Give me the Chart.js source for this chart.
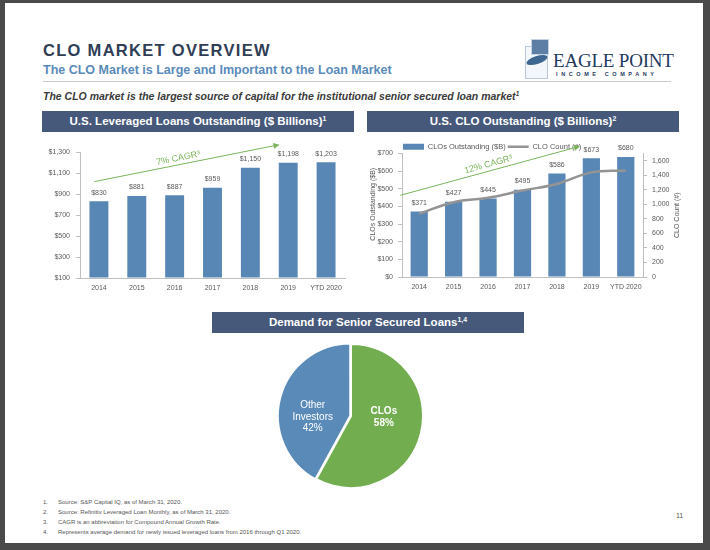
<!DOCTYPE html>
<html>
<head>
<meta charset="utf-8">
<script src="https://cdn.jsdelivr.net/npm/chart.js@4.4.1/dist/chart.umd.min.js"></script>
<style>
  html, body { margin: 0; padding: 0; }
  body { width: 710px; height: 550px; background: #4a4a4a; position: relative; overflow: hidden;
         font-family: "Liberation Sans", Arial, sans-serif; }
  .slide { position: absolute; left: 5px; top: 3px; width: 698px; height: 540px; background: #fff; }
  .abs { position: absolute; white-space: nowrap; }
  .title { left: 43px; top: 41px; font-size: 16.5px; font-weight: bold; letter-spacing: 1.3px; color: #2f3e55; }
  .subtitle { left: 43px; top: 63px; font-size: 12.5px; font-weight: bold; color: #5a8bba; }
  .rule { left: 43px; top: 81px; width: 628px; height: 1px; background: #c9c9c9; }
  .lead { left: 43px; top: 90px; font-size: 10.5px; font-weight: bold; font-style: italic; color: #3a3a3a; }
  .bar { background: #46597a; color: #fff; font-weight: bold; font-size: 11.5px; text-align: center;
         height: 21px; line-height: 21px; }
  sup { font-size: 0.6em; vertical-align: 0.6em; line-height: 0; }
  .notes { left: 43px; top: 497px; font-size: 6px; color: #555; line-height: 10px; }
  .notes span { display: inline-block; width: 15px; }
  .page { left: 676px; top: 512px; font-size: 7px; color: #555; }
  .logo-name { left: 553px; top: 50px; font-family: "Liberation Serif", serif; font-size: 19px; color: #1f3a5f; letter-spacing: -0.2px; }
  .logo-sub { left: 556px; top: 71px; font-size: 5.5px; font-weight: bold; letter-spacing: 3.6px; color: #1f3a5f; }
  .chart { position: absolute; }
</style>
</head>
<body>
<div class="slide"></div>

<div class="abs title">CLO MARKET OVERVIEW</div>
<div class="abs subtitle">The CLO Market is Large and Important to the Loan Market</div>
<div class="abs rule"></div>
<div class="abs lead">The CLO market is the largest source of capital for the institutional senior secured loan market<sup>1</sup></div>

<!-- logo -->
<div class="abs" style="left:525px;top:46px;width:21px;height:31px;border:1px solid #b9c7d8;background:#f3f6fa;"></div>
<div class="abs" style="left:531px;top:39px;width:16px;height:14px;background:#5d7fa6;border:1px solid #c6d4e4;"></div>
<div class="abs" style="left:526px;top:56px;width:22px;height:8px;border-radius:50%;background:#3d6690;transform:rotate(-18deg);"></div>
<div class="abs logo-name">EAGLE POINT</div>
<div class="abs logo-sub">INCOME COMPANY</div>

<div class="abs bar" style="left:42px;top:111px;width:312px;">U.S. Leveraged Loans Outstanding ($ Billions)<sup>1</sup></div>
<div class="abs bar" style="left:367px;top:111px;width:312px;">U.S. CLO Outstanding ($ Billions)<sup>2</sup></div>
<div class="abs bar" style="left:212px;top:312px;width:312px;">Demand for Senior Secured Loans<sup>1,4</sup></div>

<div class="chart" style="left:30px;top:138px;width:325px;height:165px;"><canvas id="loans"></canvas></div>
<div class="chart" style="left:362px;top:138px;width:325px;height:165px;"><canvas id="clo"></canvas></div>
<div class="chart" style="left:271px;top:336px;width:160px;height:160px;"><canvas id="demand"></canvas></div>

<div class="abs notes">
  <div><span>1.</span>Source: S&amp;P Capital IQ, as of March 31, 2020.</div>
  <div><span>2.</span>Source: Refinitiv Leveraged Loan Monthly, as of March 31, 2020.</div>
  <div><span>3.</span>CAGR is an abbreviation for Compound Annual Growth Rate.</div>
  <div><span>4.</span>Represents average demand for newly issued leveraged loans from 2016 through Q1 2020.</div>
</div>
<div class="abs page">11</div>

<script>
// values
const years = ["2014", "2015", "2016", "2017", "2018", "2019", "YTD 2020"];
const loansOutstanding = [830, 881, 887, 959, 1150, 1198, 1203];
const cloOutstanding = [371, 427, 445, 495, 586, 673, 680];
const cloCount = [870, 1030, 1090, 1190, 1280, 1440, 1465];
const demandLabels = ["CLOs", "Other Investors"];
const demandShares = [58, 42];

const BLUE = "#5887b5";
const GREY_LINE = "#949494";
const GREEN = "#7ab55a";
const TICK = "#595959";
const AXIS = "#bfbfbf";
const FONT = "'Liberation Sans', Arial, sans-serif";

Chart.defaults.font.family = FONT;
Chart.defaults.font.size = 7;
Chart.defaults.color = TICK;
Chart.defaults.animation = false;

const money = v => "$" + v.toLocaleString("en-US");

// "$xxx" above every bar
const barLabels = {
    id: "barLabels",
    afterDatasetsDraw(chart) {
        const ctx = chart.ctx;
        const idx = chart.data.datasets.findIndex(ds => (ds.type || chart.config.type) === "bar");
        const meta = chart.getDatasetMeta(idx);
        ctx.save();
        ctx.font = "7px " + FONT;
        ctx.fillStyle = TICK;
        ctx.textAlign = "center";
        ctx.textBaseline = "bottom";
        meta.data.forEach((bar, i) => {
            ctx.fillText(money(chart.data.datasets[idx].data[i]), bar.x, bar.y - 5);
        });
        ctx.restore();
    }
};

// green CAGR arrow, anchored in data units
const cagrArrow = {
    id: "cagrArrow",
    afterDraw(chart, args, opts) {
        if (!opts.text) return;
        const xs = chart.scales.x, ys = chart.scales.y;
        const x0 = xs.getPixelForValue(opts.from[0]), y0 = ys.getPixelForValue(opts.from[1]);
        const x1 = xs.getPixelForValue(opts.to[0]), y1 = ys.getPixelForValue(opts.to[1]);
        const ang = Math.atan2(y1 - y0, x1 - x0);
        const c = Math.cos(ang), s = Math.sin(ang);
        const ctx = chart.ctx;
        ctx.save();
        ctx.strokeStyle = GREEN;
        ctx.fillStyle = GREEN;
        ctx.lineWidth = 1;
        ctx.beginPath();
        ctx.moveTo(x0, y0);
        ctx.lineTo(x1 - 4 * c, y1 - 4 * s);
        ctx.stroke();
        ctx.beginPath();
        ctx.moveTo(x1, y1);
        ctx.lineTo(x1 - 6 * c + 3 * s, y1 - 6 * s - 3 * c);
        ctx.lineTo(x1 - 6 * c - 3 * s, y1 - 6 * s + 3 * c);
        ctx.closePath();
        ctx.fill();
        ctx.translate(x0 + (x1 - x0) * opts.at, y0 + (y1 - y0) * opts.at);
        ctx.rotate(ang);
        ctx.font = "9px " + FONT;
        ctx.textAlign = "center";
        ctx.textBaseline = "bottom";
        ctx.fillText(opts.text, 0, -2);
        ctx.restore();
    }
};

// vertical axis titles reading bottom to top on both sides
const sideTitles = {
    id: "sideTitles",
    afterDraw(chart, args, opts) {
        if (!opts.items) return;
        const ctx = chart.ctx;
        const area = chart.chartArea;
        ctx.save();
        ctx.font = "7px " + FONT;
        ctx.fillStyle = TICK;
        ctx.textAlign = "center";
        ctx.textBaseline = "middle";
        opts.items.forEach(it => {
            const s = chart.scales[it.axis];
            ctx.save();
            ctx.translate(s.left + it.dx, (area.top + area.bottom) / 2 + it.dy);
            ctx.rotate(-Math.PI / 2);
            ctx.fillText(it.text, 0, 0);
            ctx.restore();
        });
        ctx.restore();
    }
};

// nudge the legend so it starts over the plot like on the slide
const legendNudge = {
    id: "legendNudge",
    beforeDraw(chart, args, opts) {
        if (chart.legend && opts.dx !== undefined) {
            chart.legend.left = opts.dx;
            chart.legend.top = opts.dy;
        }
    }
};

const axisGrid = { display: true, drawOnChartArea: false, drawTicks: true, tickLength: 4, color: AXIS };
const xGrid = { display: false, drawTicks: false };

new Chart(document.getElementById("loans"), {
    type: "bar",
    data: {
        labels: years,
        datasets: [{
            data: loansOutstanding,
            backgroundColor: BLUE,
            base: 100,
            barPercentage: 0.5,
            categoryPercentage: 1
        }]
    },
    options: {
        responsive: true,
        maintainAspectRatio: false,
        layout: { padding: { top: 14, right: 10 } },
        plugins: {
            legend: { display: false },
            tooltip: { enabled: false },
            cagrArrow: { text: "7% CAGR³", from: [-0.12, 1018], to: [4.77, 1370], at: 0.46 }
        },
        scales: {
            x: {
                grid: xGrid,
                border: { color: AXIS },
                ticks: { font: { size: 7 }, padding: 6, maxRotation: 0, autoSkip: false },
                afterFit(s) { s.height = 25; }
            },
            y: {
                min: 100, max: 1300,
                ticks: { stepSize: 200, callback: v => money(v), font: { size: 7 }, padding: 6 },
                grid: axisGrid,
                border: { color: AXIS },
                afterFit(s) { s.width = 50; }
            }
        }
    },
    plugins: [barLabels, cagrArrow]
});

new Chart(document.getElementById("clo"), {
    data: {
        labels: years,
        datasets: [{
            type: "line",
            label: "CLO Count (#)",
            data: cloCount,
            yAxisID: "y1",
            borderColor: GREY_LINE,
            borderWidth: 2.5,
            pointRadius: 0,
            tension: 0.4,
            order: 0
        }, {
            type: "bar",
            label: "CLOs Outstanding ($B)",
            data: cloOutstanding,
            yAxisID: "y",
            backgroundColor: BLUE,
            barPercentage: 0.5,
            categoryPercentage: 1,
            order: 1
        }]
    },
    options: {
        responsive: true,
        maintainAspectRatio: false,
        layout: { padding: { top: -4 } },
        plugins: {
            legend: {
                display: true,
                position: "top",
                align: "start",
                reverse: true,
                labels: {
                    usePointStyle: true,
                    pointStyleWidth: 21,
                    boxHeight: 6,
                    padding: 2,
                    font: { size: 7.5 },
                    generateLabels(chart) {
                        return chart.data.datasets.map((ds, i) => ({
                            text: ds.label,
                            datasetIndex: i,
                            fillStyle: ds.type === "bar" ? BLUE : GREY_LINE,
                            strokeStyle: ds.type === "bar" ? BLUE : GREY_LINE,
                            lineWidth: ds.type === "bar" ? 0 : 2.5,
                            pointStyle: ds.type === "bar" ? "rect" : "line",
                            fontColor: TICK,
                            hidden: false
                        }));
                    }
                }
            },
            legendNudge: { dx: 39, dy: 3 },
            tooltip: { enabled: false },
            cagrArrow: { text: "12% CAGR³", from: [-0.55, 463], to: [4.67, 741], at: 0.5 },
            sideTitles: {
                items: [
                    { axis: "y", text: "CLOs Outstanding ($B)", dx: 11, dy: -11 },
                    { axis: "y1", text: "CLO Count (#)", dx: 34, dy: 0 }
                ]
            }
        },
        scales: {
            x: {
                grid: xGrid,
                border: { color: AXIS },
                ticks: { font: { size: 7 }, padding: 6, maxRotation: 0, autoSkip: false },
                afterFit(s) { s.height = 26; }
            },
            y: {
                position: "left",
                min: 0, max: 700,
                ticks: { stepSize: 100, callback: v => money(v), font: { size: 7 }, padding: 5 },
                grid: axisGrid,
                border: { color: AXIS },
                afterFit(s) { s.width = 40; }
            },
            y1: {
                position: "right",
                min: 0, max: 1700,
                afterBuildTicks(s) { s.ticks = s.ticks.filter(t => t.value % 200 === 0); },
                ticks: { stepSize: 100, callback: v => v.toLocaleString("en-US"), font: { size: 7 }, padding: 5 },
                grid: axisGrid,
                border: { color: AXIS },
                afterFit(s) { s.width = 44; }
            }
        }
    },
    plugins: [legendNudge, barLabels, cagrArrow, sideTitles]
});

// slice labels in white: name words plus share
const pieLabels = {
    id: "pieLabels",
    afterDatasetsDraw(chart) {
        const ctx = chart.ctx;
        const meta = chart.getDatasetMeta(0);
        ctx.save();
        ctx.fillStyle = "#fff";
        ctx.textAlign = "center";
        ctx.textBaseline = "middle";
        meta.data.forEach((arc, i) => {
            const p = arc.tooltipPosition();
            const lines = chart.data.labels[i].split(" ").concat(demandShares[i] + "%");
            const bold = i === 0;
            ctx.font = (bold ? "bold " : "") + "10px " + FONT;
            const lh = 11.5;
            const top = arc.y + 1 - (lines.length - 1) * lh / 2;
            lines.forEach((l, k) => ctx.fillText(l, p.x - 2, top + k * lh));
        });
        ctx.restore();
    }
};

new Chart(document.getElementById("demand"), {
    type: "pie",
    data: {
        labels: demandLabels,
        datasets: [{
            data: demandShares,
            backgroundColor: ["#72ae4f", "#5a8ab8"],
            borderColor: "#fff",
            borderWidth: 2,
            offset: [0, 3]
        }]
    },
    options: {
        responsive: true,
        maintainAspectRatio: false,
        radius: 72,
        layout: { padding: 0 },
        plugins: { legend: { display: false }, tooltip: { enabled: false } }
    },
    plugins: [pieLabels]
});
</script>
</body>
</html>
